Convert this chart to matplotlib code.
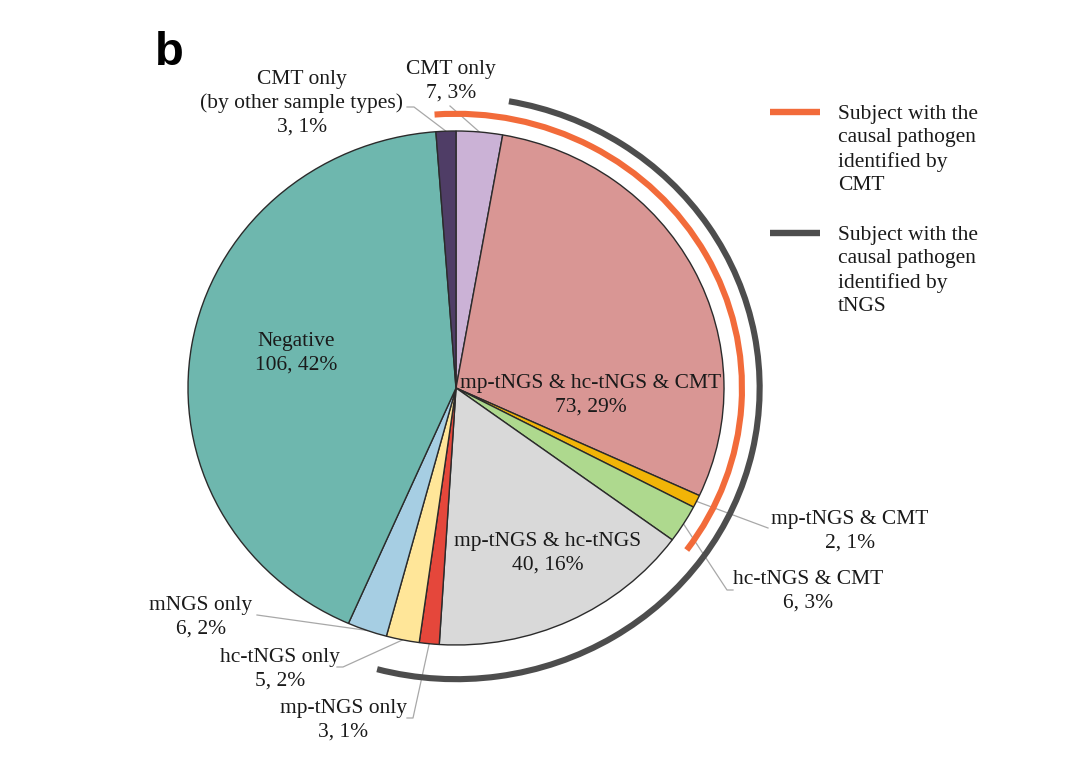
import numpy as np
import matplotlib
matplotlib.use("Agg")
import matplotlib.pyplot as plt
from matplotlib.patches import Arc

# slice data, clockwise from 12 o'clock
labels = ["CMT only", "mp-tNGS & hc-tNGS & CMT", "mp-tNGS & CMT", "hc-tNGS & CMT",
          "mp-tNGS & hc-tNGS", "mp-tNGS only", "hc-tNGS only", "mNGS only",
          "Negative", "CMT only\n(by other sample types)"]
counts = [7, 73, 2, 6, 40, 3, 5, 6, 106, 3]
percents = [3, 29, 1, 3, 16, 1, 2, 2, 42, 1]
colors = ["#CBB2D6", "#D99694", "#F1B407", "#AED98E", "#D9D9D9",
          "#E5473B", "#FFE699", "#A6CEE3", "#6EB7AE", "#4F3D66"]

# which slices belong to each outer ring
cmt_group = [0, 1, 2, 3, 9]
tngs_group = [1, 2, 3, 4, 5, 6]
legend_labels = ["Subject with the\ncausal pathogen\nidentified by\nCMT",
                 "Subject with the\ncausal pathogen\nidentified by\ntNGS"]
ring_colors = ["#F26B3A", "#4D4D4D"]

plt.rcParams["font.family"] = ["Liberation Serif", "DejaVu Serif"]
FS = 15.5
LS = 1.32

W, H = 1080, 768
CX, CY, RX, RY = 456, 388, 268, 257


def px(x, y):
    return (x - CX) / RX, (CY - y) / RY


fig = plt.figure(figsize=(W / 100, H / 100), dpi=100)
ax = fig.add_axes([0, 0, 1, 1])
ax.pie(counts, colors=colors, startangle=90, counterclock=False, radius=1,
       wedgeprops=dict(edgecolor="#2b2b2b", linewidth=1.0))
ax.set_aspect("auto")
ax.set_xlim(-CX / RX, (W - CX) / RX)
ax.set_ylim(-(H - CY) / RY, CY / RY)
ax.axis("off")

total = sum(counts)
cum = np.concatenate([[0], np.cumsum(counts)])
# math angles (deg) for start/end of each slice
start_ang = 90 - cum[:-1] / total * 360
end_ang = 90 - cum[1:] / total * 360
mid_ang = (start_ang + end_ang) / 2


def ring(group, r, color):
    idx = sorted(group)
    if 9 in idx and 0 in idx:
        # wraps past 12 o'clock
        a1 = end_ang[max(i for i in idx if i < 9)]
        a2 = 90 + counts[9] / total * 360
    else:
        a1 = end_ang[max(idx)]
        a2 = start_ang[min(idx)]
    arc = Arc((0, 0), 2 * r, 2 * r, theta1=a1, theta2=a2, color=color,
              linewidth=4.4, capstyle="butt")
    ax.add_patch(arc)


ring(cmt_group, 1.067, ring_colors[0])
ring(tngs_group, 1.133, ring_colors[1])


def txt(i, x, y, **kw):
    s = "{}\n{}, {}%".format(labels[i], counts[i], percents[i])
    ax.text(*px(x, y), s, ha="center", va="center", fontsize=FS,
            linespacing=LS, color="#1a1a1a", **kw)


def leader(i, pts):
    a = np.deg2rad(mid_ang[i])
    xs = [np.cos(a)] + [px(p[0], p[1])[0] for p in pts]
    ys = [np.sin(a)] + [px(p[0], p[1])[1] for p in pts]
    ax.plot(xs, ys, color="#A8A8A8", linewidth=0.9, zorder=0.5)


# inside labels
txt(8, 296, 353)
txt(1, 591, 395)
txt(4, 548, 553)

# outside labels with leader lines
txt(9, 302, 103)
leader(9, [(414, 107), (407, 107)])
txt(0, 451, 81)
leader(0, [(450, 106)])
txt(2, 850, 531)
leader(2, [(768, 528)])
txt(3, 808, 591)
leader(3, [(727, 590), (733, 590)])
txt(7, 201, 617)
leader(7, [(257, 615)])
txt(6, 280, 669)
leader(6, [(343, 667), (337, 667)])
txt(5, 343, 720)
leader(5, [(413, 718), (407, 718)])

# legend for the rings
for k, ly in enumerate([112, 233]):
    ax.plot(*zip(px(770, ly), px(820, ly)), color=ring_colors[k],
            linewidth=4.6, solid_capstyle="butt")
    ax.text(*px(838, ly + 38), legend_labels[k], ha="left", va="center",
            fontsize=FS, linespacing=LS, color="#1a1a1a")

fig.text(155 / W, 1 - 53 / H, "b", fontsize=34, fontweight="bold",
         family="Liberation Sans", ha="left", va="center")

fig.savefig("out.png", dpi=100, facecolor="white")
